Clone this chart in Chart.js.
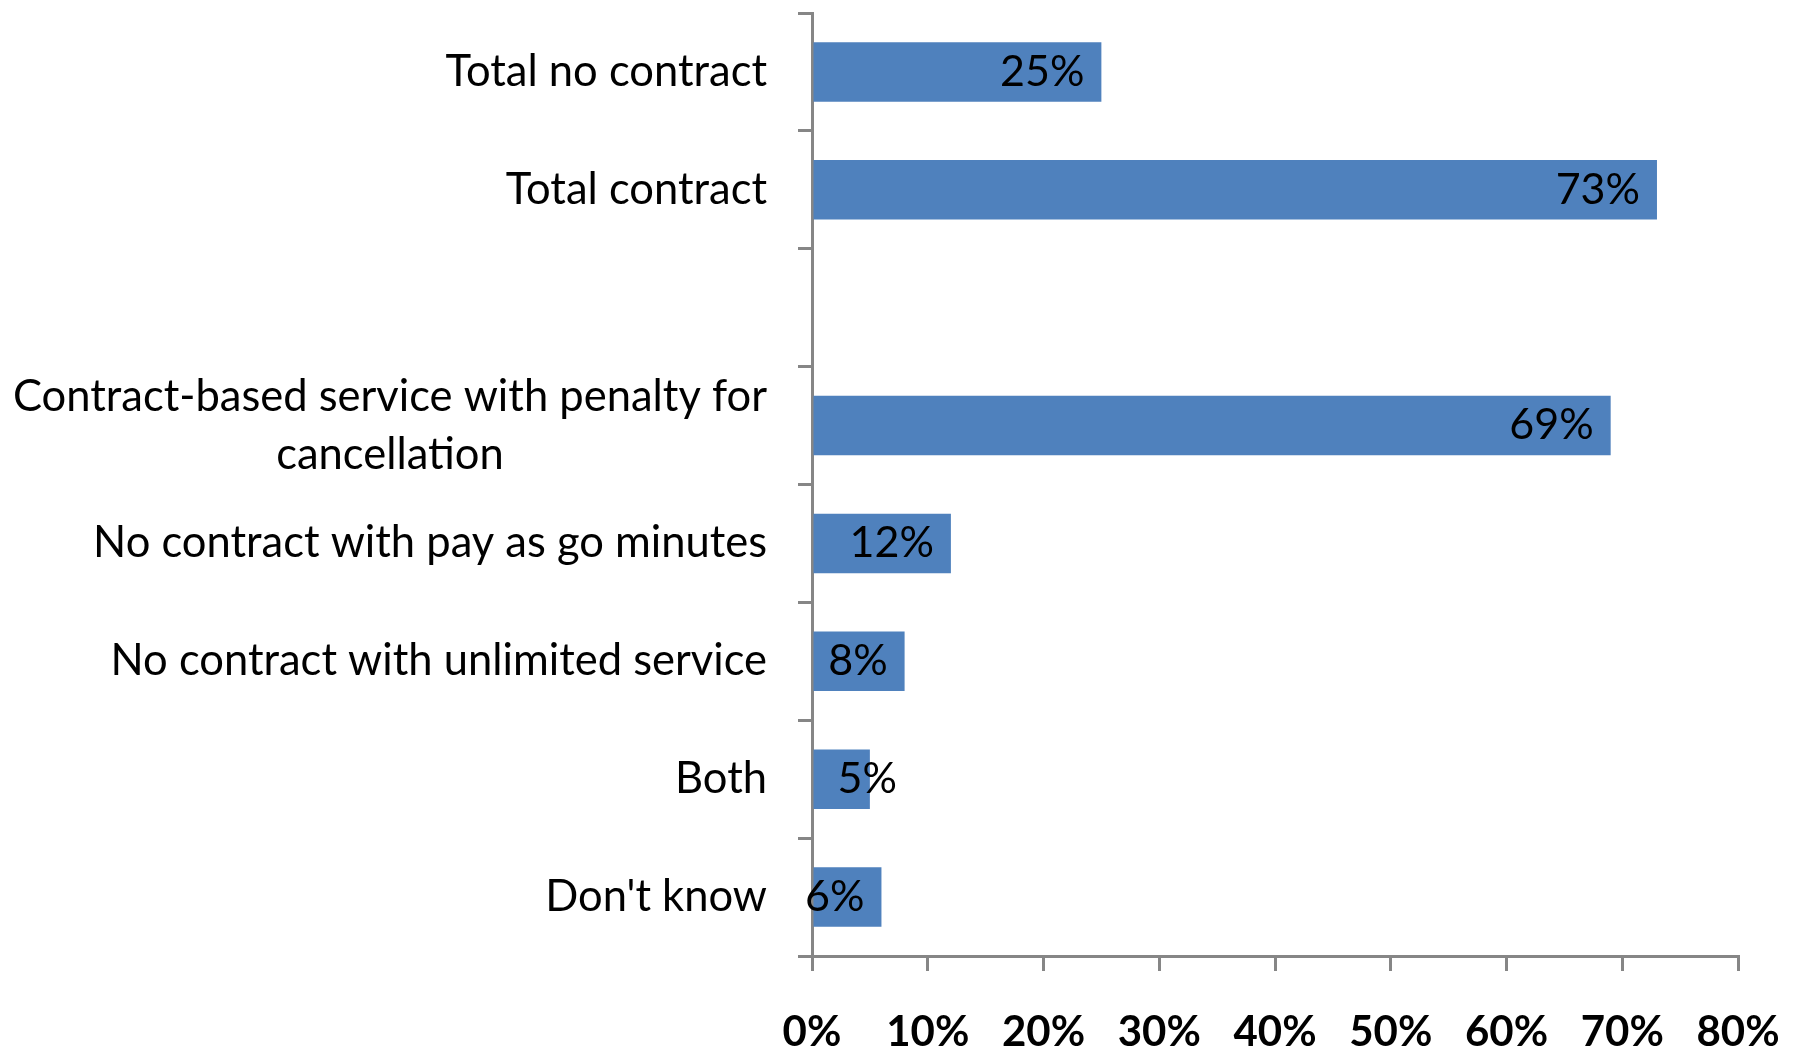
<!DOCTYPE html>
<html>
<head>
<meta charset="utf-8">
<title>Service type</title>
<script src="https://cdn.jsdelivr.net/npm/chart.js@4/dist/chart.umd.min.js"></script>
<style>
  html, body { margin: 0; padding: 0; background: #fff; }
  #wrap { width: 1795px; height: 1052px; }
</style>
</head>
<body>
<div id="wrap"><canvas id="myChart"></canvas></div>
<script>
// categories top to bottom; the empty one is a spacer row
const categories = [
    'Total no contract',
    'Total contract',
    '',
    ['Contract-based service with penalty for', 'cancellation'],
    'No contract with pay as go minutes',
    'No contract with unlimited service',
    'Both',
    "Don't know"
];
const shares = [25, 73, null, 69, 12, 8, 5, 6];
const xTicks = [0, 10, 20, 30, 40, 50, 60, 70, 80];

const FONT = 'Lato, "Open Sans", sans-serif';
const AXIS_GREY = '#868686';
const BAR_BLUE = '#4F81BD';

// category names, drawn by hand so wrapped names are centred line by line
const categoryText = {
    id: 'categoryText',
    afterDraw(chart) {
        const ctx = chart.ctx;
        const y = chart.scales.y;
        const right = y.right - 45;
        const lh = 58;
        ctx.save();
        ctx.font = '43.5px ' + FONT;
        ctx.fillStyle = '#000';
        ctx.textBaseline = 'middle';
        categories.forEach((c, i) => {
            const lines = Array.isArray(c) ? c : [c];
            const widest = Math.max(...lines.map(l => ctx.measureText(l).width));
            const cy = y.getPixelForValue(i);
            lines.forEach((l, k) => {
                const ly = cy + (k - (lines.length - 1) / 2) * lh;
                if (lines.length > 1) {
                    ctx.textAlign = 'center';
                    ctx.fillText(l, right - widest / 2, ly);
                } else {
                    ctx.textAlign = 'right';
                    ctx.fillText(l, right, ly);
                }
            });
        });
        ctx.restore();
    }
};

// value labels just inside the end of each bar; when a bar is too short
// the label is pushed out past the axis instead
const barValues = {
    id: 'barValues',
    afterDatasetsDraw(chart) {
        const ctx = chart.ctx;
        const meta = chart.getDatasetMeta(0);
        ctx.save();
        ctx.font = '43px ' + FONT;
        ctx.fillStyle = '#000';
        ctx.textAlign = 'left';
        ctx.textBaseline = 'middle';
        meta.data.forEach((bar, i) => {
            if (shares[i] == null) return;
            const txt = shares[i] + '%';
            const w = ctx.measureText(txt).width;
            let left = bar.x - 17 - w;
            if (left < bar.base - 10) left = bar.base + 24;
            ctx.fillText(txt, left, bar.y);
        });
        ctx.restore();
    }
};

const ctx = document.getElementById('myChart').getContext('2d');
const myChart = new Chart(ctx, {
    type: 'bar',
    data: {
        labels: categories,
        datasets: [{
            data: shares,
            backgroundColor: BAR_BLUE,
            borderWidth: 0,
            categoryPercentage: 1,
            barPercentage: 0.505
        }]
    },
    options: {
        indexAxis: 'y',
        responsive: true,
        maintainAspectRatio: false,
        animation: false,
        layout: { padding: { top: 13, right: 57, left: 0, bottom: 0 } },
        plugins: {
            legend: { display: false },
            tooltip: { enabled: false }
        },
        scales: {
            x: {
                min: 0,
                max: 80,
                afterBuildTicks: (s) => { s.ticks = xTicks.map(v => ({ value: v })); },
                afterFit: (s) => {
                    s.height = 96;
                    s.paddingLeft = 0;
                    s.paddingRight = 0;
                },
                grid: {
                    drawOnChartArea: false,
                    tickLength: 15,
                    color: AXIS_GREY,
                    lineWidth: 3
                },
                border: { display: true, color: AXIS_GREY, width: 3 },
                ticks: {
                    callback: (v) => v + '%',
                    color: '#000',
                    font: { family: FONT, size: 42, weight: 'bold' },
                    padding: 36,
                    maxRotation: 0
                }
            },
            y: {
                afterFit: (s) => { s.width = 812; },
                grid: {
                    offset: true,
                    drawOnChartArea: false,
                    tickLength: 14,
                    color: AXIS_GREY,
                    lineWidth: 3
                },
                border: { display: true, color: AXIS_GREY, width: 3 },
                ticks: { display: false }
            }
        }
    },
    plugins: [categoryText, barValues]
});
</script>
</body>
</html>
